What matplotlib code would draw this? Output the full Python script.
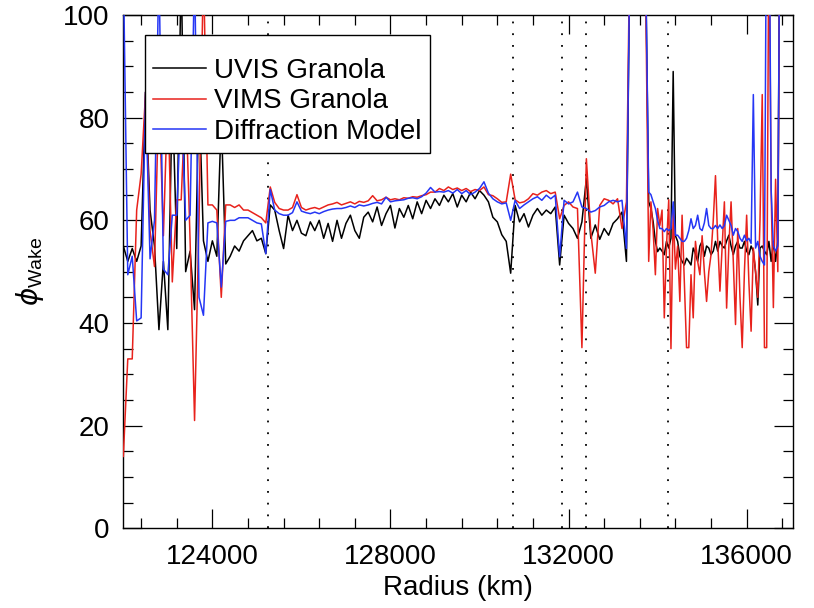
import numpy as np
import matplotlib
matplotlib.use("Agg")
import matplotlib.pyplot as plt
from matplotlib.ticker import MultipleLocator

plt.rcParams["font.family"] = ["Liberation Sans", "DejaVu Sans"]
plt.rcParams["mathtext.fontset"] = "custom"
plt.rcParams["mathtext.rm"] = "Liberation Sans"
plt.rcParams["mathtext.it"] = "DejaVu Sans:italic"

# radius grid: 100 km bins inside, 50 km bins outside the Encke gap
radius_inner = np.arange(122000, 133800, 100)
radius_outer = np.arange(133800, 137001, 50)

uvis_inner = [
    55, 52, 54.5, 52, 55, 85, 62, 55, 38.7, 52,
    38.7, 85, 54.5, 110, 50, 54, 42.6, 85, 56, 52,
    56, 53, 80, 51.5, 53, 55, 54, 56, 57, 58,
    56, 56.5, 53.5, 63, 62, 58, 54.5, 61, 58, 60,
    57.5, 57, 59.7, 58, 60, 56.5, 59.4, 55.9, 60, 56.5,
    59.4, 61, 58, 56.5, 60.6, 61.6, 59.7, 62.6, 59, 61.3,
    62.9, 58.5, 62.3, 60.6, 62.9, 60.3, 63.6, 61.3, 63.9, 62.3,
    64.2, 62.9, 64.9, 63.6, 65.2, 62.6, 64.9, 63.6, 65.5, 64.2,
    65.8, 64.9, 63.6, 60.6, 59.7, 57.2, 55.9, 49.7, 62.9, 59.7,
    61.3, 58.7, 61, 62.3, 61, 62, 61.3, 62.6, 51.3, 61,
    59.4, 58.4, 56.5, 59.7, 68.1, 56.5, 59.1, 56.3, 58.4, 57.1,
    59.4, 60.3, 61.6, 52, 130, 130, 130, 130,
]
vims_inner = [
    14, 33, 33, 62, 69, 85, 58, 51, 85, 57,
    85, 48, 64, 64, 85, 56, 21, 60, 110, 63,
    63, 62, 45, 63, 63, 62.5, 63, 62, 62, 61.5,
    61, 60.5, 59.5, 66.5, 63.5, 62.3, 62, 62, 62.5, 65,
    62.5, 62, 62.3, 62.5, 62.2, 62.6, 63, 63.2, 63.5, 63,
    63.3, 63.6, 63.2, 63.7, 63.5, 63.8, 64.8, 63.8, 64, 64.5,
    64, 64.2, 64, 64.4, 64.3, 64.6, 64.5, 64.8, 65, 65.5,
    65.5, 66.2, 65.8, 66.5, 66, 66.3, 65.8, 66.2, 65.6, 66,
    65.8, 66.5, 65, 64.8, 64.2, 63.5, 63.6, 69, 64, 63.4,
    63.6, 64.2, 65.2, 64.9, 65.5, 65.8, 65.2, 65.5, 60.3, 62.9,
    63.6, 62.6, 62.3, 35.2, 72, 57.7, 49.7, 62.9, 64.2, 63.9,
    63.2, 64.2, 58.4, 63.6, 130, 130, 130, 130,
]
diff_inner = [
    110, 49.4, 53, 40.4, 41, 85, 52.5, 60, 110, 50.5,
    49.4, 61, 61, 85, 60, 61, 110, 45, 41.5, 59.5,
    59.8, 59.5, 47, 59.8, 60, 60, 60.5, 60.5, 60.5, 60,
    59.5, 59.3, 53.5, 66, 62, 61.3, 61, 61, 61.5, 63.6,
    61.8, 61.5, 61.3, 61.6, 61.3, 61.7, 62, 62.2, 62.3, 62.3,
    62.5, 62.8, 62.5, 63, 62.8, 63, 63.3, 63.5, 63.2, 64.5,
    63.6, 63.8, 63.9, 64, 64.3, 64.4, 64.2, 64.6, 65.3, 66.4,
    65.5, 65.6, 65.5, 65.8, 65.3, 66, 65.2, 65.8, 65, 65.5,
    66.2, 67.5, 65.3, 64.2, 63.6, 63.2, 63.4, 60, 63.9, 62.3,
    63, 63.6, 64.2, 64.6, 63.9, 64.9, 64.2, 64.9, 52.9, 63.9,
    63.2, 63.6, 65.5, 62.6, 62.3, 61.6, 61.9, 62.6, 62.9, 63.6,
    63.9, 63.6, 63.9, 54.5, 130, 130, 130, 130,
]

uvis_outer = [
    63.6, 62.3, 59.7, 55.9, 53.9, 54.6, 54, 53.3, 55.9, 54.6,
    56.5, 89, 57, 55.9, 53, 52, 51.3, 52.6, 52, 51.3,
    54.6, 53.5, 52, 55, 55.9, 53, 55, 54.6, 53.3, 54,
    55.9, 54, 55.9, 55, 54.6, 56, 57.1, 55, 53.3, 55,
    55.9, 54.6, 54.6, 55.9, 54, 53.3, 55, 54, 50, 43.5,
    54.6, 55, 54, 53.3, 55.9, 52, 55.9, 52, 56, 130,
    130, 130, 130, 130, 130,
]
vims_outer = [
    52, 63.6, 58, 49.4, 62.3, 59, 62, 41, 55, 64,
    35, 62, 50.5, 55, 44.2, 61, 48, 35.2, 35.2, 49.4,
    41, 55.9, 52, 49.4, 57, 50, 44.2, 50, 53.3, 60,
    68.7, 56, 46.2, 55, 63.6, 42.9, 55, 63.6, 52, 39.7,
    58.4, 45, 35.2, 50, 61, 48, 38.4, 54.6, 50, 45,
    60, 84.5, 35.2, 35.2, 120, 66, 43, 68, 50, 130,
    130, 130, 130, 130, 130,
]
diff_outer = [
    65.5, 65, 63.6, 62.3, 60, 58.4, 58.4, 57.8, 58.4, 58,
    58.4, 63.6, 57.1, 57.1, 56.5, 55.9, 55.9, 56.5, 58, 60.3,
    58.4, 59, 61, 58.4, 58, 59.5, 62.3, 59, 58.4, 58.4,
    59, 58.4, 59.1, 58.4, 59, 61, 60, 59, 57.1, 58.4,
    57.8, 56.5, 55.9, 57.1, 56, 56.5, 55.5, 84.5, 54.6, 55.9,
    53, 52, 51.3, 130, 130, 66, 55, 54, 55, 130,
    130, 130, 130, 130, 130,
]

# resonance locations (dotted markers)
resonances = [125260, 130760, 131860, 132400, 134240]

radius = np.concatenate([radius_inner, radius_outer])
series = [
    ("UVIS Granola", uvis_inner + uvis_outer, "black"),
    ("VIMS Granola", vims_inner + vims_outer, "#e8221c"),
    ("Diffraction Model", diff_inner + diff_outer, "#2536f5"),
]

fig = plt.figure(figsize=(8.14, 6.08), dpi=100)
ax = fig.add_axes([0.1515, 0.1311, 0.8221, 0.8442])

for r in resonances:
    ax.axvline(r, color="black", linestyle=(0, (1, 5.5)), linewidth=1.3, zorder=1)

for i, (name, vals, col) in enumerate(series):
    ax.plot(radius, vals, color=col, linewidth=1.1, label=name, zorder=2 + i)

ax.set_xlim(122000, 137030)
ax.set_ylim(0, 100)
ax.xaxis.set_major_locator(MultipleLocator(4000))
ax.xaxis.set_minor_locator(MultipleLocator(800))
ax.yaxis.set_major_locator(MultipleLocator(20))
ax.yaxis.set_minor_locator(MultipleLocator(5))
ax.tick_params(which="both", direction="in", top=True, right=True, width=0.9,
               labelsize=20)
ax.tick_params(which="major", length=13.7)
ax.tick_params(which="minor", length=7.2)
ax.tick_params(axis="x", which="major", pad=11)
ax.tick_params(axis="y", which="major", pad=10)
for s in ax.spines.values():
    s.set_linewidth(1.0)

ax.set_xlabel("Radius (km)", fontsize=20, va="center")
ax.xaxis.set_label_coords(0.5, -0.117)
ax.set_ylabel(r"$\phi_{\mathrm{Wake}}$", fontsize=20, va="center")
ax.yaxis.set_label_coords(-0.139, 0.5)

leg = ax.legend(loc="upper left", bbox_to_anchor=(0.032, 0.961),
                borderaxespad=0, fontsize=20, frameon=True, fancybox=False,
                framealpha=1, edgecolor="black", handlelength=1.9,
                handletextpad=0.3, labelspacing=0.16, borderpad=0.3,
                title=" ", title_fontsize=8)
leg.get_frame().set_linewidth(1.0)
leg.set_zorder(10)

fig.savefig("out.png", dpi=100, facecolor="white")
